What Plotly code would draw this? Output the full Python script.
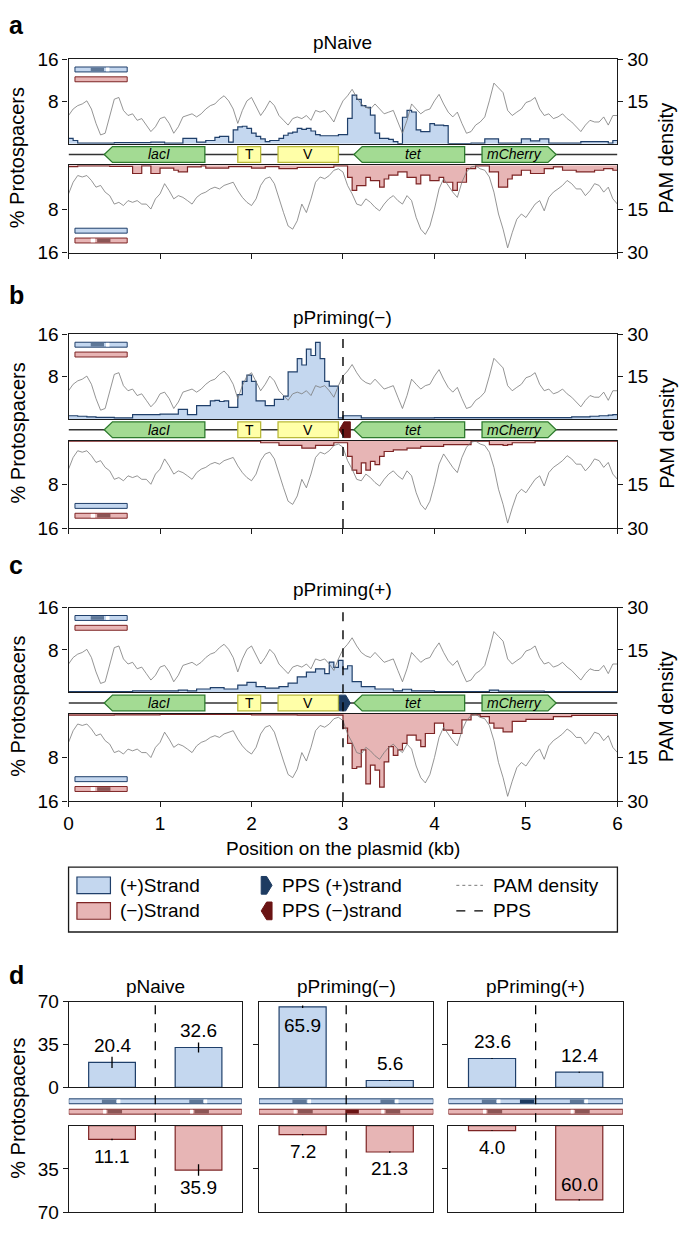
import plotly.graph_objects as go

W, H = 685, 1233

# ---------------- data ----------------
POSITION_KB = [0.0, 0.05, 0.1, 0.15, 0.2, 0.25, 0.3, 0.35, 0.4, 0.45,
               0.5, 0.55, 0.6, 0.65, 0.7, 0.75, 0.8, 0.85, 0.9, 0.95,
               1.0, 1.05, 1.1, 1.15, 1.2, 1.25, 1.3, 1.35, 1.4, 1.45,
               1.5, 1.55, 1.6, 1.65, 1.7, 1.75, 1.8, 1.85, 1.9, 1.95,
               2.0, 2.05, 2.1, 2.15, 2.2, 2.25, 2.3, 2.35, 2.4, 2.45,
               2.5, 2.55, 2.6, 2.65, 2.7, 2.75, 2.8, 2.85, 2.9, 2.95,
               3.0, 3.05, 3.1, 3.15, 3.2, 3.25, 3.3, 3.35, 3.4, 3.45,
               3.5, 3.55, 3.6, 3.65, 3.7, 3.75, 3.8, 3.85, 3.9, 3.95,
               4.0, 4.05, 4.1, 4.15, 4.2, 4.25, 4.3, 4.35, 4.4, 4.45,
               4.5, 4.55, 4.6, 4.65, 4.7, 4.75, 4.8, 4.85, 4.9, 4.95,
               5.0, 5.05, 5.1, 5.15, 5.2, 5.25, 5.3, 5.35, 5.4, 5.45,
               5.5, 5.55, 5.6, 5.65, 5.7, 5.75, 5.8, 5.85, 5.9, 5.95,
               6.0]

PAM_PLUS = [10.0, 12.3, 13.5, 14.1, 15.2, 12.3, 7.2, 3.1, 3.7, 10.0,
            15.8, 16.4, 11.8, 10.0, 10.6, 8.3, 8.9, 6.6, 4.3, 6.0,
            8.9, 9.5, 7.2, 3.7, 6.0, 9.5, 10.0, 10.6, 9.5, 10.6,
            12.3, 13.5, 14.1, 15.8, 17.0, 15.2, 12.3, 7.2, 11.8, 15.2,
            16.4, 12.9, 10.0, 12.3, 15.2, 13.5, 10.0, 8.3, 6.6, 8.9,
            9.5, 8.9, 10.0, 8.3, 11.8, 11.2, 11.8, 10.0, 7.7, 11.8,
            15.2, 17.0, 19.3, 16.4, 14.1, 12.9, 12.3, 14.1, 12.3, 10.6,
            11.2, 11.8, 7.7, 3.7, 8.3, 14.1, 12.3, 10.6, 11.8, 12.3,
            15.2, 17.5, 14.1, 11.2, 9.5, 11.2, 7.2, 3.7, 4.3, 6.6,
            7.7, 9.5, 15.2, 21.5, 19.8, 18.1, 11.8, 10.0, 11.2, 12.3,
            14.6, 15.2, 16.4, 12.3, 10.0, 10.6, 8.9, 9.5, 10.6, 8.9,
            7.7, 6.0, 4.3, 6.6, 8.3, 7.7, 7.7, 9.5, 6.6, 10.0,
            10.0]

PAM_MINUS = [9.8, 5.8, 3.5, 4.0, 3.5, 5.2, 7.5, 6.9, 9.2, 10.4,
             13.3, 12.7, 13.8, 12.1, 12.7, 12.1, 13.3, 13.3, 15.0, 11.5,
             9.8, 6.3, 8.7, 11.5, 10.4, 11.0, 12.1, 13.3, 11.0, 9.8,
             9.2, 8.1, 7.5, 8.1, 6.9, 6.3, 5.8, 8.7, 11.0, 12.7,
             13.8, 11.5, 6.9, 4.6, 4.0, 6.3, 11.5, 16.2, 20.8, 21.9,
             19.0, 13.3, 16.2, 11.5, 5.8, 4.0, 4.6, 3.5, 1.7, 1.2,
             2.3, 6.9, 9.8, 13.3, 13.8, 11.5, 12.7, 14.4, 15.6, 13.3,
             11.5, 10.4, 12.1, 13.3, 10.4, 12.1, 17.9, 21.9, 23.7, 20.8,
             15.0, 8.1, 4.6, 6.9, 9.2, 11.0, 5.8, 2.3, 0.6, 0.2,
             1.2, 1.7, 4.0, 9.2, 16.7, 21.9, 28.3, 23.1, 18.5, 16.7,
             17.9, 15.6, 13.3, 12.1, 15.6, 11.0, 9.2, 8.1, 6.9, 5.2,
             6.3, 8.1, 8.1, 10.4, 8.7, 6.3, 6.9, 9.2, 7.5, 11.5,
             13.3]

# % protospacers per 50-bp bin (bin start = POSITION_KB[i])
A_PLUS = [1.0, 0.6, 0.1, 0.1, 0.1, 0.1, 0.1, 0.1, 0.1, 0.1,
          0.2, 0.2, 0.2, 0.2, 0.2, 0.2, 0.2, 0.2, 0.3, 0.3,
          0.3, 0.1, 0.1, 0.1, 0.1, 1.0, 1.0, 1.0, 0.3, 0.3,
          0.6, 0.6, 1.2, 1.4, 1.4, 0.3, 2.6, 3.2, 3.3, 2.9,
          2.0, 1.4, 0.9, 0.4, 0.6, 0.6, 1.0, 1.6, 2.0, 2.2,
          2.9, 2.7, 2.9, 2.4, 1.7, 1.5, 1.5, 1.5, 1.5, 1.7,
          1.7, 4.8, 9.2, 8.4, 7.2, 6.9, 5.4, 2.0, 1.0, 1.0,
          0.8, 0.4, 0.0, 5.0, 6.3, 6.0, 2.6, 2.3, 2.3, 3.8,
          3.5, 3.5, 3.4, 0.0, 0.0, 0.0, 0.0, 0.0, 0.1, 0.1,
          0.1, 0.9, 0.9, 0.9, 0.1, 0.1, 0.1, 0.1, 0.1, 0.9,
          0.9, 0.55, 0.55, 0.9, 0.9, 0.1, 0.1, 0.1, 0.1, 0.1,
          0.1, 0.1, 0.4, 0.4, 0.4, 0.4, 0.4, 0.4, 0.1, 0.6]
A_MINUS = [0.25, 0.25, 0.1, 0.1, 0.1, 0.1, 0.1, 0.1, 0.1, 0.2,
           0.2, 0.2, 0.2, 0.2, 1.5, 1.5, 0.1, 0.1, 1.5, 1.5,
           0.5, 0.5, 0.5, 0.9, 1.2, 1.2, 0.3, 0.3, 0.3, 0.1,
           0.5, 0.5, 0.5, 0.5, 0.5, 0.25, 0.25, 0.25, 0.25, 0.25,
           0.5, 0.5, 0.5, 0.25, 0.25, 0.25, 0.6, 0.6, 0.6, 0.6,
           0.4, 0.4, 0.4, 0.4, 0.4, 0.4, 0.4, 0.4, 0.1, 0.1,
           0.1, 2.2, 4.6, 3.7, 3.7, 2.2, 2.8, 2.8, 4.0, 2.5,
           1.8, 1.8, 1.2, 1.2, 2.2, 2.2, 3.4, 1.8, 1.8, 2.8,
           2.8, 2.2, 3.1, 3.1, 4.6, 3.1, 3.1, 0.6, 0.6, 0.1,
           0.1, 0.1, 1.2, 1.2, 4.0, 4.0, 2.5, 1.8, 1.8, 0.9,
           0.9, 1.5, 1.5, 1.5, 0.6, 0.6, 0.3, 0.3, 0.9, 0.9,
           0.9, 1.2, 1.2, 1.2, 1.2, 0.9, 0.9, 0.6, 0.6, 0.9]
B_PLUS = [0.6, 0.6, 0.5, 0.5, 0.4, 0.4, 0.3, 0.3, 0.3, 0.3,
          0.2, 0.2, 0.2, 0.2, 0.8, 0.8, 0.8, 0.8, 0.8, 0.8,
          0.9, 0.9, 0.9, 0.9, 1.8, 1.8, 0.8, 0.8, 2.5, 2.5,
          2.5, 3.4, 3.5, 3.3, 3.4, 2.2, 2.2, 4.6, 7.1, 8.3,
          7.1, 3.4, 3.4, 2.5, 2.5, 3.7, 3.7, 4.3, 8.9, 8.9,
          11.4, 10.2, 13.2, 12.0, 14.5, 11.4, 7.1, 6.2, 6.2, 0.2,
          0.6, 0.6, 0.6, 0.6, 0.2, 0.2, 0.2, 0.2, 0.2, 0.2,
          0.2, 0.2, 0.2, 0.2, 0.2, 0.2, 0.2, 0.2, 0.2, 0.2,
          0.25, 0.25, 0.25, 0.25, 0.25, 0.25, 0.25, 0.25, 0.25, 0.25,
          0.25, 0.25, 0.25, 0.25, 0.25, 0.25, 0.25, 0.25, 0.25, 0.25,
          0.25, 0.25, 0.25, 0.25, 0.25, 0.25, 0.25, 0.25, 0.25, 0.25,
          0.4, 0.4, 0.4, 0.4, 0.5, 0.5, 0.6, 0.6, 0.7, 0.8]
B_MINUS = [0.1, 0.1, 0.1, 0.1, 0.1, 0.1, 0.1, 0.1, 0.1, 0.1,
           0.1, 0.1, 0.1, 0.1, 0.1, 0.1, 0.1, 0.1, 0.1, 0.1,
           0.1, 0.1, 0.1, 0.1, 0.1, 0.1, 0.1, 0.1, 0.1, 0.1,
           0.1, 0.1, 0.1, 0.1, 0.1, 0.1, 0.1, 0.1, 0.1, 0.1,
           0.1, 0.1, 0.4, 0.4, 0.4, 0.4, 0.9, 0.9, 0.9, 0.9,
           0.9, 1.4, 1.4, 1.4, 0.9, 0.9, 0.9, 0.9, 0.4, 0.4,
           0.4, 2.9, 5.4, 6.0, 4.1, 5.4, 3.8, 4.4, 2.9, 2.0,
           2.0, 1.7, 1.7, 1.7, 1.4, 1.4, 1.4, 1.05, 1.05, 1.05,
           1.05, 1.05, 0.75, 0.75, 0.75, 0.75, 0.75, 0.75, 0.1, 0.1,
           0.1, 0.1, 0.75, 0.75, 0.75, 0.9, 0.75, 0.4, 0.4, 0.4,
           0.4, 0.4, 0.1, 0.1, 0.1, 0.1, 0.1, 0.1, 0.1, 0.1,
           0.1, 0.1, 0.1, 0.1, 0.1, 0.1, 0.1, 0.1, 0.1, 0.1]
C_PLUS = [0.1, 0.1, 0.1, 0.1, 0.1, 0.1, 0.1, 0.1, 0.1, 0.1,
          0.1, 0.1, 0.1, 0.1, 0.25, 0.25, 0.25, 0.25, 0.25, 0.25,
          0.25, 0.25, 0.25, 0.25, 0.4, 0.4, 0.25, 0.25, 0.6, 0.6,
          0.6, 0.85, 0.85, 0.85, 0.6, 0.6, 0.6, 1.35, 1.35, 1.85,
          1.85, 1.05, 1.05, 0.75, 0.75, 0.75, 1.05, 1.05, 1.7, 1.7,
          2.9, 2.9, 3.8, 3.8, 4.4, 4.4, 3.5, 5.7, 4.7, 6.0,
          4.4, 5.0, 2.0, 2.0, 1.05, 1.05, 1.05, 0.6, 0.6, 0.6,
          0.6, 0.25, 0.25, 0.55, 0.55, 0.25, 0.25, 0.25, 0.25, 0.25,
          0.1, 0.1, 0.1, 0.1, 0.1, 0.1, 0.1, 0.1, 0.1, 0.1,
          0.1, 0.1, 0.4, 0.4, 0.2, 0.2, 0.2, 0.2, 0.2, 0.2,
          0.2, 0.2, 0.2, 0.2, 0.1, 0.1, 0.1, 0.1, 0.1, 0.1,
          0.1, 0.1, 0.1, 0.1, 0.1, 0.1, 0.1, 0.1, 0.1, 0.1]
C_MINUS = [0.25, 0.25, 0.25, 0.25, 0.25, 0.25, 0.25, 0.25, 0.25, 0.25,
           0.2, 0.2, 0.2, 0.2, 0.2, 0.2, 0.2, 0.2, 0.2, 0.2,
           0.1, 0.1, 0.1, 0.1, 0.1, 0.1, 0.1, 0.1, 0.1, 0.1,
           0.1, 0.1, 0.1, 0.1, 0.1, 0.1, 0.1, 0.1, 0.1, 0.1,
           0.2, 0.2, 0.2, 0.2, 0.2, 0.2, 0.2, 0.2, 0.2, 0.2,
           0.25, 0.25, 0.25, 0.25, 0.25, 0.25, 0.25, 0.25, 0.25, 0.25,
           2.6, 5.4, 10.0, 9.7, 6.6, 12.8, 9.4, 10.3, 13.4, 8.8,
           6.0, 7.6, 6.6, 5.4, 3.9, 3.9, 4.8, 6.0, 3.6, 3.6,
           1.7, 1.7, 3.0, 3.0, 3.6, 3.6, 1.1, 1.1, 0.2, 0.2,
           0.5, 0.5, 1.7, 2.6, 2.6, 3.3, 3.3, 1.4, 1.4, 1.4,
           1.0, 1.0, 1.0, 1.0, 1.0, 1.0, 0.5, 0.5, 0.5, 0.5,
           0.3, 0.3, 0.3, 0.3, 0.3, 0.3, 0.3, 0.3, 0.3, 0.3]

PANEL_TITLES = ["pNaive", "pPriming(\u2212)", "pPriming(+)"]
PANEL_LETTERS = ["a", "b", "c"]
PANEL_PLUS = [A_PLUS, B_PLUS, C_PLUS]
PANEL_MINUS = [A_MINUS, B_MINUS, C_MINUS]
PANEL_PPS = [None, "minus", "plus"]
PPS_KB = 3.0
PPS_MARK_START = 2.96
PPS_MARK_END = 3.08

GENE_NAMES = ["lacI", "T", "V", "tet", "mCherry"]
GENE_START = [0.39, 1.85, 2.29, 3.12, 4.52]
GENE_END = [1.49, 2.10, 2.95, 4.33, 5.33]
GENE_KIND = ["rev", "box", "box", "rev", "fwd"]
X_TICKS = [0, 1, 2, 3, 4, 5, 6]

D_TITLES = ["pNaive", "pPriming(\u2212)", "pPriming(+)"]
D_POS = [0.5, 1.5]
D_PLUS = [[20.4, 32.6], [65.9, 5.6], [23.6, 12.4]]
D_PLUS_ERR = [[4.6, 4.0], [1.0, 0.5], [0.5, 0.4]]
D_MINUS = [[11.1, 35.9], [7.2, 21.3], [4.0, 60.0]]
D_MINUS_ERR = [[0.6, 4.6], [0.5, 0.7], [0.3, 0.5]]

# ---------------- style ----------------
FONT = "Liberation Sans, Arial, Helvetica, sans-serif"
AX = "#1a1a1a"
BLUE_FILL = "#c4d7ef"
BLUE_LINE = "#1f3f6a"
RED_FILL = "#e7b5b5"
RED_LINE = "#7d2424"
GRAY = "#7a7a7a"
GREEN_FILL = "#a3db93"
GREEN_LINE = "#2e7b2e"
YELLOW_FILL = "#ffffa8"
YELLOW_LINE = "#b9b93a"
NAVY = "#1d3b61"
DARKRED = "#6a1414"
SEG_BLUE = "#5f7898"
SEG_RED = "#8c5656"
TF = dict(family=FONT, size=19, color="black")


def px_x(p):
    return p / W


def px_y(p):
    return 1 - p / H


layout = {}
shapes = []
annotations = []
traces = []
cnt = {"x": 0, "y": 0}


def alloc(kind):
    cnt[kind] += 1
    n = cnt[kind]
    ref = kind if n == 1 else f"{kind}{n}"
    key = f"{kind}axis" if n == 1 else f"{kind}axis{n}"
    return ref, key


def rect_shape(xref, yref, x0, x1, y0, y1, fill, line, lw=1.0):
    return dict(type="rect", xref=xref, yref=yref, x0=x0, x1=x1, y0=y0, y1=y1,
                fillcolor=fill, line=dict(color=line, width=lw), layer="above")


def paper_rect(x0, x1, y0, y1, fill, line, lw=1.0):
    return rect_shape("paper", "paper", px_x(x0), px_x(x1), px_y(y1), px_y(y0), fill, line, lw)


def paper_path(points, fill, line, lw=1.0):
    d = "M " + " L ".join(f"{px_x(a):.5f},{px_y(b):.5f}" for a, b in points) + " Z"
    return dict(type="path", xref="paper", yref="paper", path=d, fillcolor=fill,
                line=dict(color=line, width=lw), layer="above")


def text(x, y, s, size=19, xanchor="center", xref="paper", yref="paper", angle=0, yshift=0,
         bold=False, italic=False):
    if bold:
        s = f"<b>{s}</b>"
    if italic:
        s = f"<i>{s}</i>"
    annotations.append(dict(x=x, y=y, xref=xref, yref=yref, text=s, showarrow=False,
                            xanchor=xanchor, yanchor="middle", textangle=angle, yshift=yshift,
                            font=dict(family=FONT, size=size, color="black")))


def strip_icon(y_blue, y_red, blue_segs, red_segs):
    x0, x1 = 71, 124
    shapes.append(paper_rect(x0, x1, y_blue, y_blue + 5, BLUE_FILL, BLUE_LINE, 1))
    shapes.append(paper_rect(x0, x1, y_red, y_red + 5, RED_FILL, RED_LINE, 1))
    for (a, b, c) in blue_segs:
        shapes.append(paper_rect(a, b, y_blue + 0.6, y_blue + 4.4, c, c, 0))
    for (a, b, c) in red_segs:
        shapes.append(paper_rect(a, b, y_red + 0.6, y_red + 4.4, c, c, 0))


PLOT_L, PLOT_R = 64.5, 621.5
PANEL_TOPS = [50, 330, 608]
TITLE_Y = [33, 313, 590]
LETTER_Y = [15, 290, 565]

axis_common = dict(showgrid=False, zeroline=False, linecolor=AX, linewidth=1.3,
                   tickcolor=AX, tickwidth=1.3, ticklen=5, tickfont=TF)

for i in range(3):
    top = PANEL_TOPS[i]
    up0, up1 = top, top + 86
    gn0, gn1 = top + 86, top + 108
    lo0, lo1 = top + 108, top + 197
    xu, xuk = alloc("x"); yu, yuk = alloc("y"); yup, yupk = alloc("y")
    xg, xgk = alloc("x"); yg, ygk = alloc("y")
    xl, xlk = alloc("x"); yl, ylk = alloc("y"); ylp, ylpk = alloc("y")
    dom = [px_x(PLOT_L), px_x(PLOT_R)]

    layout[xuk] = dict(axis_common, domain=dom, range=[0, 6], anchor=yu, showline=True,
                       mirror=True, ticks="", showticklabels=False)
    layout[yuk] = dict(axis_common, domain=[px_y(up1), px_y(up0)], range=[0, 16], anchor=xu,
                       showline=True, mirror=True, ticks="outside", tickvals=[8, 16])
    layout[yupk] = dict(axis_common, overlaying=yu, side="right", anchor=xu, range=[0, 30],
                        showline=False, ticks="outside", tickvals=[15, 30])
    layout[xgk] = dict(domain=dom, range=[0, 6], anchor=yg, visible=False)
    layout[ygk] = dict(domain=[px_y(gn1), px_y(gn0)], range=[-11, 11], anchor=xg, visible=False)
    layout[xlk] = dict(axis_common, domain=dom, range=[0, 6], anchor=yl, showline=True,
                       mirror=True, ticks="outside", tickvals=X_TICKS,
                       showticklabels=(i == 2))
    layout[ylk] = dict(axis_common, domain=[px_y(lo1), px_y(lo0)], range=[16, 0], anchor=xl,
                       showline=True, mirror=True, ticks="outside", tickvals=[8, 16])
    layout[ylpk] = dict(axis_common, overlaying=yl, side="right", anchor=xl, range=[30, 0],
                        showline=False, ticks="outside", tickvals=[15, 30])

    plus = PANEL_PLUS[i] + [PANEL_PLUS[i][-1]]
    minus = PANEL_MINUS[i] + [PANEL_MINUS[i][-1]]
    traces.append(go.Scatter(x=POSITION_KB, y=plus, mode="lines", fill="tozeroy",
                             fillcolor=BLUE_FILL, line=dict(shape="hv", color=BLUE_LINE, width=1.2),
                             xaxis=xu, yaxis=yu, hoverinfo="skip"))
    traces.append(go.Scatter(x=POSITION_KB, y=PAM_PLUS, mode="lines",
                             line=dict(shape="linear", color=GRAY, width=0.8),
                             xaxis=xu, yaxis=yup, hoverinfo="skip"))
    traces.append(go.Scatter(x=POSITION_KB, y=minus, mode="lines", fill="tozeroy",
                             fillcolor=RED_FILL, line=dict(shape="hv", color=RED_LINE, width=1.2),
                             xaxis=xl, yaxis=yl, hoverinfo="skip"))
    traces.append(go.Scatter(x=POSITION_KB, y=PAM_MINUS, mode="lines",
                             line=dict(shape="linear", color=GRAY, width=0.8),
                             xaxis=xl, yaxis=ylp, hoverinfo="skip"))

    # gene track backbone
    traces.append(go.Scatter(x=[0, 6], y=[0, 0], mode="lines", line=dict(color="#333333", width=1.6),
                             xaxis=xg, yaxis=yg, hoverinfo="skip"))
    head = 0.09
    for name, s, e, k in zip(GENE_NAMES, GENE_START, GENE_END, GENE_KIND):
        if k == "box":
            shapes.append(rect_shape(xg, yg, s, e, -8, 8, YELLOW_FILL, YELLOW_LINE, 1.3))
            text((s + e) / 2, 0, name, size=14, xref=xg, yref=yg)
        elif k == "rev":
            d = f"M {e},-8 L {s + head},-8 L {s},0 L {s + head},8 L {e},8 Z"
            shapes.append(dict(type="path", xref=xg, yref=yg, path=d, fillcolor=GREEN_FILL,
                               line=dict(color=GREEN_LINE, width=1.3), layer="above"))
            text((s + head + e) / 2, 0, name, size=14, xref=xg, yref=yg, italic=True)
        else:
            d = f"M {s},-8 L {e - head},-8 L {e},0 L {e - head},8 L {s},8 Z"
            shapes.append(dict(type="path", xref=xg, yref=yg, path=d, fillcolor=GREEN_FILL,
                               line=dict(color=GREEN_LINE, width=1.3), layer="above"))
            text((s + e - head) / 2, 0, name, size=14, xref=xg, yref=yg, italic=True)

    pps = PANEL_PPS[i]
    if pps is not None:
        s, e = PPS_MARK_START, PPS_MARK_END
        h = 0.05
        if pps == "minus":
            d = f"M {e},-8 L {s + h},-8 L {s},0 L {s + h},8 L {e},8 Z"
            col = DARKRED
        else:
            d = f"M {s},-8 L {e - h},-8 L {e},0 L {e - h},8 L {s},8 Z"
            col = NAVY
        shapes.append(dict(type="path", xref=xg, yref=yg, path=d, fillcolor=col,
                           line=dict(color=col, width=1), layer="above"))
        shapes.append(dict(type="line", xref=xu, yref="paper", x0=PPS_KB, x1=PPS_KB,
                           y0=px_y(lo1), y1=px_y(up0), line=dict(color="black", width=1.4, dash="dash"),
                           layer="above"))

    # strand icons
    strip_icon(top + 8, top + 18, [(87, 100.5, SEG_BLUE), (102.5, 106, "white")], [])
    strip_icon(top + 172, top + 182, [], [(87, 91.5, "white"), (93.5, 107, SEG_RED)])

    text(px_x((PLOT_L + PLOT_R) / 2), px_y(TITLE_Y[i]), PANEL_TITLES[i], size=19)
    text(px_x(2), px_y(LETTER_Y[i]), PANEL_LETTERS[i], size=25, xanchor="left", bold=True)
    text(px_x(13), px_y(gn0 + 14), "% Protospacers", size=20, angle=-90)
    text(px_x(671), px_y(gn0 + 15), "PAM density", size=20, angle=-90)

text(px_x(343), px_y(853), "Position on the plasmid (kb)", size=19)

# ---------------- legend ----------------
shapes.append(paper_rect(64.5, 621.5, 872, 938, "rgba(0,0,0,0)", AX, 1.3))
shapes.append(paper_rect(73, 107, 882, 899, BLUE_FILL, BLUE_LINE, 1.2))
shapes.append(paper_rect(73, 107, 908, 925, RED_FILL, RED_LINE, 1.2))
text(px_x(115), px_y(890.5), "(+)Strand", xanchor="left")
text(px_x(115), px_y(916.5), "(\u2212)Strand", xanchor="left")
shapes.append(paper_path([(260, 881.5), (265.5, 881.5), (271, 890.5), (265.5, 899.5), (260, 899.5)], NAVY, NAVY, 1))
shapes.append(paper_path([(271, 907.5), (265.5, 907.5), (260, 916.5), (265.5, 925.5), (271, 925.5)], DARKRED, DARKRED, 1))
text(px_x(279), px_y(890.5), "PPS (+)strand", xanchor="left")
text(px_x(279), px_y(916.5), "PPS (\u2212)strand", xanchor="left")
shapes.append(dict(type="line", xref="paper", yref="paper", x0=px_x(458), x1=px_x(485),
                   y0=px_y(890.5), y1=px_y(890.5), line=dict(color=GRAY, width=1, dash="dot")))
shapes.append(dict(type="line", xref="paper", yref="paper", x0=px_x(458), x1=px_x(485),
                   y0=px_y(916.5), y1=px_y(916.5), line=dict(color="black", width=1.3, dash="dash")))
text(px_x(493), px_y(890.5), "PAM density", xanchor="left")
text(px_x(493), px_y(916.5), "PPS", xanchor="left")

# ---------------- panel d ----------------
D_COLS = [(64.7, 240.3), (257.8, 434.7), (450.0, 627.0)]
UP0, UP1 = 1009, 1096
LO0, LO1 = 1135, 1223
BLUE_STRIP = (1107.7, 1112.7)
RED_STRIP = (1118.3, 1123.3)
for j in range(3):
    c0, c1 = D_COLS[j]
    xu, xuk = alloc("x"); yu, yuk = alloc("y")
    xl, xlk = alloc("x"); yl, ylk = alloc("y")
    dom = [px_x(c0), px_x(c1)]
    layout[xuk] = dict(axis_common, domain=dom, range=[0, 2], anchor=yu, showline=True, mirror=True,
                       ticks="", showticklabels=False)
    layout[yuk] = dict(axis_common, domain=[px_y(UP1), px_y(UP0)], range=[0, 70], anchor=xu,
                       showline=True, mirror=True, ticks="outside",
                       tickvals=[0, 35, 70] if j == 0 else [35], showticklabels=(j == 0))
    layout[xlk] = dict(axis_common, domain=dom, range=[0, 2], anchor=yl, showline=True, mirror=True,
                       ticks="", showticklabels=False)
    layout[ylk] = dict(axis_common, domain=[px_y(LO1), px_y(LO0)], range=[70, 0], anchor=xl,
                       showline=True, mirror=True, ticks="outside",
                       tickvals=[35, 70] if j == 0 else [35], showticklabels=(j == 0))

    traces.append(go.Bar(x=D_POS, y=D_PLUS[j], width=0.54,
                         marker=dict(color=BLUE_FILL, line=dict(color=BLUE_LINE, width=1.2)),
                         error_y=dict(type="data", array=D_PLUS_ERR[j], color="black",
                                      thickness=1.3, width=0),
                         xaxis=xu, yaxis=yu, hoverinfo="skip"))
    traces.append(go.Bar(x=D_POS, y=D_MINUS[j], width=0.54,
                         marker=dict(color=RED_FILL, line=dict(color=RED_LINE, width=1.2)),
                         error_y=dict(type="data", array=D_MINUS_ERR[j], color="black",
                                      thickness=1.3, width=0),
                         xaxis=xl, yaxis=yl, hoverinfo="skip"))
    for p, v in zip(D_POS, D_PLUS[j]):
        text(p, v, f"{v:.1f}", xref=xu, yref=yu, yshift=(-19 if v > 50 else 17))
    for p, v in zip(D_POS, D_MINUS[j]):
        text(p, v, f"{v:.1f}", xref=xl, yref=yl, yshift=(15 if v > 50 else -17))

    # strand strips
    shapes.append(rect_shape(xu, "paper", 0, 2, px_y(BLUE_STRIP[1]), px_y(BLUE_STRIP[0]), BLUE_FILL, BLUE_LINE, 1))
    shapes.append(rect_shape(xu, "paper", 0, 2, px_y(RED_STRIP[1]), px_y(RED_STRIP[0]), RED_FILL, RED_LINE, 1))
    for a, b, col in [(0.383, 0.547, SEG_BLUE), (0.557, 0.597, "white"),
                      (1.393, 1.553, SEG_BLUE), (1.561, 1.60, "white")]:
        shapes.append(rect_shape(xu, "paper", a, b, px_y(BLUE_STRIP[1] - 0.6), px_y(BLUE_STRIP[0] + 0.6), col, col, 0))
    for a, b, col in [(0.397, 0.433, "white"), (0.447, 0.616, SEG_RED),
                      (1.402, 1.437, "white"), (1.452, 1.62, SEG_RED)]:
        shapes.append(rect_shape(xu, "paper", a, b, px_y(RED_STRIP[1] - 0.6), px_y(RED_STRIP[0] + 0.6), col, col, 0))
    if j == 1:
        shapes.append(rect_shape(xu, "paper", 0.99, 1.145, px_y(RED_STRIP[1] - 0.6), px_y(RED_STRIP[0] + 0.6), DARKRED, DARKRED, 0))
    if j == 2:
        shapes.append(rect_shape(xu, "paper", 0.82, 0.985, px_y(BLUE_STRIP[1] - 0.6), px_y(BLUE_STRIP[0] + 0.6), NAVY, NAVY, 0))
    shapes.append(dict(type="line", xref=xu, yref="paper", x0=1, x1=1, y0=px_y(LO1), y1=px_y(UP0),
                       line=dict(color="black", width=1.3, dash="dash"), layer="above"))
    text(px_x((c0 + c1) / 2), px_y(993), D_TITLES[j], size=19)

text(px_x(2), px_y(982), "d", size=25, xanchor="left", bold=True)
text(px_x(13), px_y(1117), "% Protospacers", size=20, angle=-90)

layout.update(dict(width=W, height=H, margin=dict(l=0, r=0, t=0, b=0), autosize=False,
                   showlegend=False, plot_bgcolor="white", paper_bgcolor="white",
                   barmode="overlay", shapes=shapes, annotations=annotations,
                   font=dict(family=FONT, color="black")))

fig = go.Figure(data=traces, layout=layout)
fig.write_html("out.html", config={"displayModeBar": False},
               post_script="document.body.style.margin='0';document.body.style.overflow='hidden';")
